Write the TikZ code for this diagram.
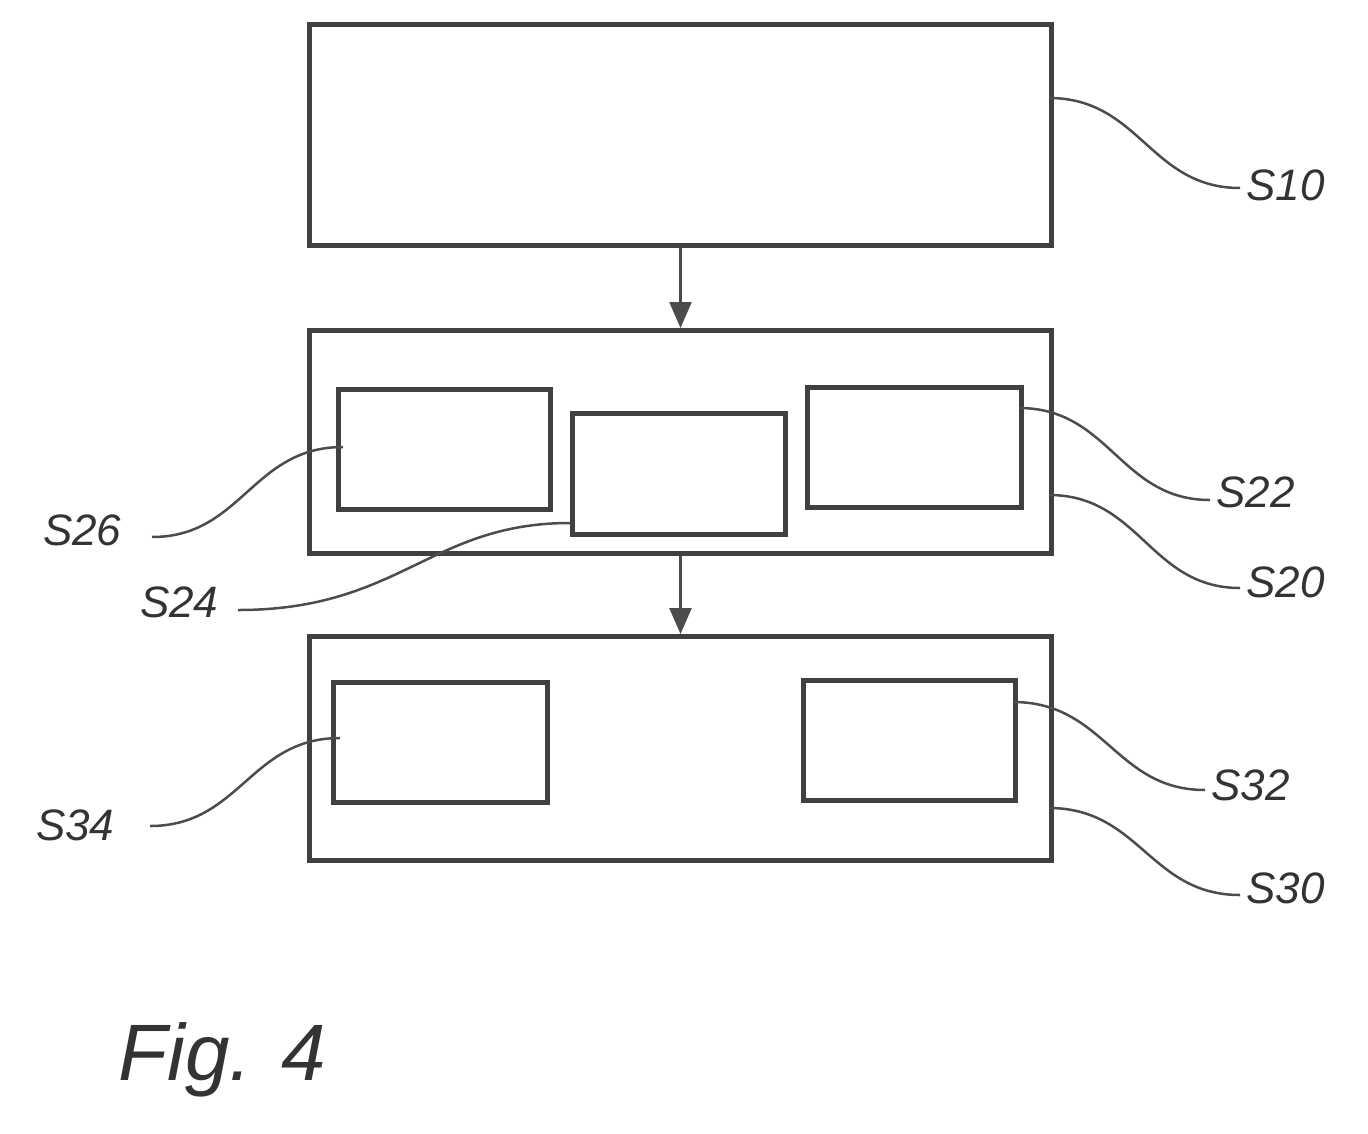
\documentclass[tikz,border=0pt]{standalone}
\usepackage{fontspec}
\setmainfont{Liberation Sans}
\usetikzlibrary{arrows.meta}
\begin{document}
\begin{tikzpicture}[x=1pt,y=-1pt,
  box/.style={draw=black!75,line width=5pt},
  lead/.style={draw=black!70,line width=2.5pt},
  lab/.style={font=\fontsize{44}{44}\selectfont\itshape,text=black!80},
  arr/.style={draw=black!70,line width=2.5pt,-{Triangle[length=26pt,width=22pt]}}]
\useasboundingbox (0,0) rectangle (1368,1133);
\node[box,minimum width=742pt,minimum height=221pt,anchor=north west] (s10) at (307,22) {};
\node[box,minimum width=742pt,minimum height=223pt,anchor=north west] (s20) at (307,328) {};
\node[box,minimum width=742pt,minimum height=224pt,anchor=north west] (s30) at (307,634) {};
\node[box,minimum width=212pt,minimum height=120pt,anchor=north west] (s26) at (336,387) {};
\node[box,minimum width=213pt,minimum height=121pt,anchor=north west] (s24) at (570,411) {};
\node[box,minimum width=214pt,minimum height=120pt,anchor=north west] (s22) at (805,385) {};
\node[box,minimum width=214pt,minimum height=120pt,anchor=north west] (s34) at (331,680) {};
\node[box,minimum width=212pt,minimum height=120pt,anchor=north west] (s32) at (801,678) {};
\draw[arr] (s10.south) -- (s20.north);
\draw[arr] (s20.south) -- (s30.north);
\coordinate (a10) at (1049,98); \coordinate (b10) at (1240,188);
\coordinate (a22) at (1019,408); \coordinate (b22) at (1210,500);
\coordinate (a20) at (1049,495); \coordinate (b20) at (1240,588);
\coordinate (a26) at (343,447); \coordinate (b26) at (152,537);
\coordinate (a24) at (570,523); \coordinate (b24) at (238,610);
\coordinate (a32) at (1013,702); \coordinate (b32) at (1205,790);
\coordinate (a30) at (1049,808); \coordinate (b30) at (1240,895);
\coordinate (a34) at (340,738); \coordinate (b34) at (150,826);
\draw[lead] (a10) .. controls (1140,98) and (1150,188) .. (b10);
\draw[lead] (a22) .. controls (1110,408) and (1120,500) .. (b22);
\draw[lead] (a20) .. controls (1140,495) and (1150,588) .. (b20);
\draw[lead] (a26) .. controls (252,447) and (242,537) .. (b26);
\draw[lead] (a24) .. controls (430,523) and (400,610) .. (b24);
\draw[lead] (a32) .. controls (1105,702) and (1115,790) .. (b32);
\draw[lead] (a30) .. controls (1140,808) and (1150,895) .. (b30);
\draw[lead] (a34) .. controls (250,738) and (240,826) .. (b34);
\node[lab,anchor=west] (t10) at (1243,185) {S10};
\node[lab,anchor=west] (t22) at (1213,492) {S22};
\node[lab,anchor=west] (t20) at (1243,582) {S20};
\node[lab,anchor=east] (t26) at (125,530) {S26};
\node[lab,anchor=east] (t24) at (222,602) {S24};
\node[lab,anchor=west] (t32) at (1208,785) {S32};
\node[lab,anchor=west] (t30) at (1243,888) {S30};
\node[lab,anchor=east] (t34) at (118,825) {S34};
\node[font=\fontsize{80}{80}\selectfont\itshape,text=black!80,anchor=west] (fig) at (115,1060) {Fig. 4};
\end{tikzpicture}
\end{document}
